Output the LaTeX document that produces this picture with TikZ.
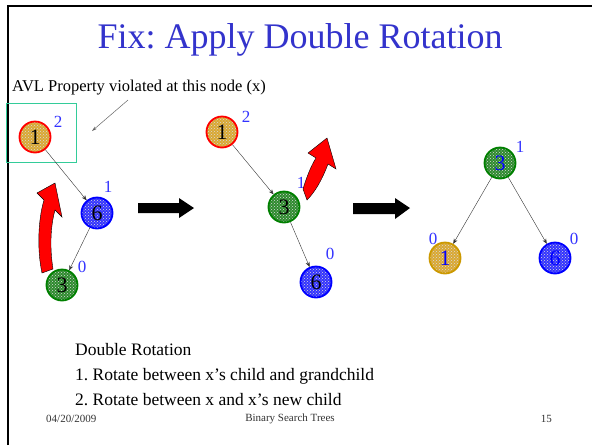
\documentclass[tikz,border=0pt]{standalone}
\usepackage{fontspec}
\setmainfont{Liberation Serif}
\usetikzlibrary{positioning,arrows.meta,patterns}
\definecolor{titleblue}{HTML}{3333CC}
\definecolor{balblue}{HTML}{3333FF}
\definecolor{tanfill}{HTML}{D9A833}
\definecolor{goldline}{HTML}{CC9900}
\definecolor{bluefill}{HTML}{3333FF}
\definecolor{greenfill}{HTML}{2E8B2E}
\definecolor{greenline}{HTML}{008000}
\definecolor{boxteal}{HTML}{33CC99}
\definecolor{footgray}{HTML}{333333}
\frenchspacing
\tikzset{
  avl/.style={circle,minimum size=31pt,inner sep=0pt,line width=1.8pt,font=\fontsize{22}{22}\selectfont},
  dotted fill/.style={preaction={fill=#1},preaction={pattern=crosshatch dots,pattern color=white!85!black}},
  tannode/.style={avl,dotted fill=tanfill,draw=red},
  goldnode/.style={avl,dotted fill=tanfill,draw=goldline,text=blue},
  bluenode/.style={avl,dotted fill=bluefill,draw=blue},
  greennode/.style={avl,dotted fill=greenfill,draw=greenline},
  bal/.style={text=balblue,font=\fontsize{17}{17}\selectfont,inner sep=0pt},
  edge/.style={draw=black!80,line width=0.4pt,-{Stealth[length=5pt,width=4pt]}},
  bigarrow/.style={fill=black},
  turn/.style={fill=red,draw=black,line width=0.4pt},
  body/.style={font=\fontsize{17.5}{20}\selectfont,inner sep=0pt,anchor=west},
  foot/.style={font=\fontsize{11}{11}\selectfont,text=footgray,inner sep=0pt}
}
\begin{document}
\begin{tikzpicture}[x=1pt,y=-1pt]
\useasboundingbox (0,0) rectangle (592,445);
\fill[white] (0,0) rectangle (592,445);
% slide frame
\draw[line width=2pt] (8,445) -- (8,6) -- (592,6);
\node[text=titleblue,font=\fontsize{36}{36}\selectfont,inner sep=0pt] (title) at (300,40) {Fix: Apply Double Rotation};
\node[font=\fontsize{16.5}{18}\selectfont,inner sep=0pt,anchor=west] (note) at (12,88) {AVL Property violated at this node (x)};
\coordinate (tip) at (92,131);
\draw[black!60,line width=0.5pt,-{Stealth[length=5pt,width=3pt]}] (128,100) -- (tip);
\draw[boxteal,line width=0.8pt] (6,103) rectangle (76,162);

% first tree
\node[tannode] (a1) at (35,137) {1};
\node[bluenode] (a6) at (97,213) {6};
\node[greennode] (a3) at (62,285) {3};
\node[bal] (a1b) at (58,122) {2};
\node[bal] (a6b) at (108,187) {1};
\node[bal] (a3b) at (82,267) {0};
\draw[edge] (a1) -- (a6);
\draw[edge] (a6) -- (a3);
\filldraw[turn] (42,273) .. controls (37,250) and (38,220) .. (44,200) -- (37,193) -- (55,183) -- (62,217) -- (55,210) .. controls (50,228) and (50,250) .. (53,269) -- cycle;

\fill[bigarrow] (138,203) -- (179,203) -- (179,198) -- (194,208) -- (179,218) -- (179,213) -- (138,213) -- cycle;

% second tree
\node[tannode] (b1) at (222,132) {1};
\node[greennode] (b3) at (284,207) {3};
\node[bluenode] (b6) at (316,282) {6};
\node[bal] (b1b) at (246,117) {2};
\node[bal] (b3b) at (301,183) {1};
\node[bal] (b6b) at (330,254) {0};
\draw[edge] (b1) -- (b3);
\draw[edge] (b3) -- (b6);
\filldraw[turn] (303,189) .. controls (307,176) and (311,166) .. (316,158) -- (308,153) -- (327,138) -- (336,169) -- (328,164) .. controls (322,180) and (315,192) .. (307,200) -- cycle;

\fill[bigarrow] (353,203) -- (395,203) -- (395,198) -- (410,208) -- (395,219) -- (395,214) -- (353,214) -- cycle;

% result
\node[greennode,text=blue] (c3) at (500,163) {3};
\node[goldnode] (c1) at (445,258) {1};
\node[bluenode,text=blue] (c6) at (555,258) {6};
\node[bal] (c3b) at (520,147) {1};
\node[bal] (c1b) at (433,239) {0};
\node[bal] (c6b) at (574,239) {0};
\draw[edge] (c3) -- (c1);
\draw[edge] (c3) -- (c6);

% steps
\node[body] (s0) at (75,350) {Double Rotation};
\node[body] (s1) at (75,376) {1. Rotate between x’s child and grandchild};
\node[body] (s2) at (75,400) {2. Rotate between x and x’s new child};
\node[foot,anchor=west] (date) at (46,419) {04/20/2009};
\node[foot] (topic) at (290,419) {Binary Search Trees};
\node[foot,anchor=east] (page) at (552,419) {15};
\end{tikzpicture}
\end{document}
